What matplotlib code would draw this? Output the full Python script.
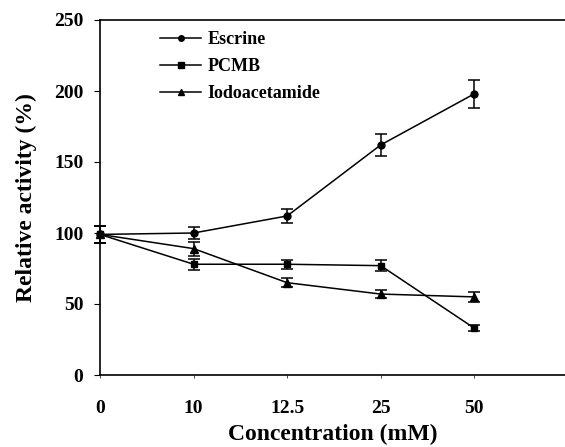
import matplotlib
matplotlib.use("Agg")
import matplotlib.pyplot as plt
from matplotlib.lines import Line2D
import numpy as np

plt.rcParams['font.family'] = ['Liberation Serif', 'DejaVu Serif']
plt.rcParams['font.weight'] = 'bold'

concentrations = ["0", "10", "12.5", "25", "50"]

escrine = [99, 100, 112, 162, 198]
escrine_err = [6, 4, 5, 8, 10]

pcmb = [99, 78, 78, 77, 33]
pcmb_err = [6, 4, 3, 4, 2]

iodoacetamide = [99, 89, 65, 57, 55]
iodoacetamide_err = [6, 5, 3, 3, 3.5]

x = np.arange(len(concentrations))

fig = plt.figure(figsize=(5.65, 4.47), dpi=100)
ax = fig.add_axes([100/565, 1 - 375/447, 465/565, 355/447])

series = [
    ("Escrine", escrine, escrine_err, "o", 5),
    ("PCMB", pcmb, pcmb_err, "s", 5),
    ("Iodoacetamide", iodoacetamide, iodoacetamide_err, "^", 6),
]
handles = []
for name, vals, errs, mk, ms in series:
    ax.errorbar(x, vals, yerr=errs, color="black", marker=mk, markersize=ms,
                linewidth=1.1, elinewidth=1.1, capsize=4.5, capthick=1.1,
                clip_on=False)
    handles.append(Line2D([], [], color="black", marker=mk, markersize=ms - 1,
                          linewidth=1.1, label=name))

ax.set_xlim(0, 4.97)
ax.set_ylim(0, 250)
ax.set_xticks(x)
ax.set_xticklabels(concentrations)
ax.set_yticks([0, 50, 100, 150, 200, 250])

ax.spines['right'].set_visible(False)
for s in ['left', 'top', 'bottom']:
    ax.spines[s].set_linewidth(1.2)

ax.tick_params(axis='both', direction='out', length=4, width=0.8,
               labelsize=14)
ax.tick_params(axis='x', length=2, width=0.5, pad=16)
ax.tick_params(axis='y', pad=8)
for lbl in ax.get_xticklabels() + ax.get_yticklabels():
    lbl.set_fontweight('bold')

ax.set_xlabel("Concentration (mM)", fontsize=17, fontweight='bold', labelpad=5)
ax.set_ylabel("Relative activity (%)", fontsize=17, fontweight='bold', labelpad=12)

leg = ax.legend(handles=handles, loc='upper left',
                bbox_to_anchor=(0.094, 1.014), frameon=False,
                fontsize=13, handlelength=2.3, labelspacing=0.55,
                handletextpad=0.35)
for t in leg.get_texts():
    t.set_fontweight('bold')

fig.savefig("out.png", dpi=100)
